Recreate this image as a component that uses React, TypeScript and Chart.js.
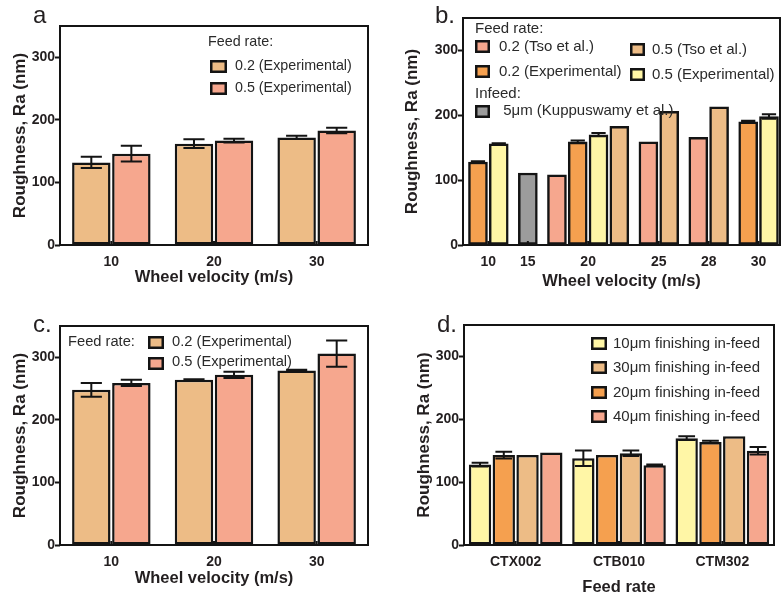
import React, { useEffect, useRef } from 'react';
import { Chart, registerables } from 'chart.js';

Chart.register(...registerables);

const FONT = '"Liberation Sans", Arial, Helvetica, sans-serif';
const TEXT = '#231f20';
const LINE = '#141414';

const C_TAN = '#EDBC86';
const C_PINK = '#F6A78E';
const C_ORANGE = '#F5A04F';
const C_YELLOW = '#FFF6A6';
const C_GRAY = '#9C9C9C';

// ---------- Panel a ----------
const aVelocity = ['10', '20', '30'];
const aNames = ['0.2 (Experimental)', '0.5 (Experimental)'];
const aFeed02 = [132, 162, 172];
const aFeed02Err = [9, 7, 2.5];
const aFeed05 = [146, 167, 183];
const aFeed05Err = [12.5, 3, 4.5];

// ---------- Panel b ----------
const bVelocity = ['10', '15', '20', '25', '28', '30'];
const bNames = ['0.2 (Tso et al.)', '0.2 (Experimental)', '0.5 (Experimental)', '0.5 (Tso et al.)', '5μm (Kuppuswamy et al.)'];
const bTso02 = [null, null, 108, 159, 166, null];
const bExp02 = [128, null, 159, null, null, 190];
const bExp02Err = [1, 0, 2, 0, 0, 1.5];
const bExp05 = [156, null, 170, null, null, 198];
const bExp05Err = [1, 0, 2.5, 0, 0, 3.5];
const bTso05 = [null, null, 183, 206, 213, null];
const bKupp = [null, 111, null, null, null, null];

// ---------- Panel c ----------
const cVelocity = ['10', '20', '30'];
const cNames = ['0.2 (Experimental)', '0.5 (Experimental)'];
const cFeed02 = [248, 264, 279];
const cFeed02Err = [11, 1, 1];
const cFeed05 = [259, 272, 306];
const cFeed05Err = [5, 5, 21];

// ---------- Panel d ----------
const dMaterial = ['CTX002', 'CTB010', 'CTM302'];
const dNames = ['10μm finishing in-feed', '20μm finishing in-feed', '30μm finishing in-feed', '40μm finishing in-feed'];
const dIn10 = [128, 138, 170];
const dIn10Err = [3, 12.5, 3];
const dIn20 = [143, 143, 164];
const dIn20Err = [5.5, 0, 2];
const dIn30 = [143, 146, 173];
const dIn30Err = [0, 4.5, 0];
const dIn40 = [147, 127, 150];
const dIn40Err = [0, 1, 6];

const errorBarPlugin = {
  id: 'errorBars',
  afterDatasetsDraw(chart: any, _a: any, opts: any) {
    const ctx = chart.ctx;
    const ys = chart.scales.y;
    const cap = opts && opts.cap ? opts.cap : 0.55;
    chart.data.datasets.forEach((ds: any, di: number) => {
      if (!ds.errors) return;
      const meta = chart.getDatasetMeta(di);
      meta.data.forEach((bar: any, i: number) => {
        const e = ds.errors[i];
        if (!e) return;
        const raw = ds.data[i];
        const v = raw != null && typeof raw === 'object' ? raw.y : raw;
        if (v == null) return;
        const yHi = ys.getPixelForValue(v + e);
        const yLo = ys.getPixelForValue(v - e);
        const half = (bar.width * cap) / 2;
        ctx.save();
        ctx.strokeStyle = LINE;
        ctx.lineWidth = 2;
        ctx.beginPath();
        ctx.moveTo(bar.x, yHi);
        ctx.lineTo(bar.x, yLo);
        ctx.moveTo(bar.x - half, yHi);
        ctx.lineTo(bar.x + half, yHi);
        ctx.moveTo(bar.x - half, yLo);
        ctx.lineTo(bar.x + half, yLo);
        ctx.stroke();
        ctx.restore();
      });
    });
  },
};

const panelPlugin = {
  id: 'panel',
  afterDatasetsDraw(chart: any, _a: any, opts: any) {
    const ctx = chart.ctx;
    const { left, right, top, bottom } = chart.chartArea;
    const xs = chart.scales.x;
    ctx.save();
    ctx.strokeStyle = LINE;
    ctx.lineWidth = 2;
    ctx.beginPath();
    xs.ticks.forEach((_t: any, i: number) => {
      const px = xs.getPixelForTick(i);
      ctx.moveTo(px, bottom);
      ctx.lineTo(px, bottom - 4);
    });
    ctx.stroke();
    ctx.lineWidth = 2;
    ctx.strokeRect(left, top, right - left, bottom - top);
    if (opts.label) {
      ctx.fillStyle = TEXT;
      ctx.font = `24px ${FONT}`;
      ctx.textBaseline = 'alphabetic';
      ctx.textAlign = 'left';
      ctx.fillText(opts.label.text, opts.label.x, opts.label.y);
    }
    const fs = opts.legendFont || 14;
    (opts.legend || []).forEach((it: any) => {
      if (it.kind === 'box') {
        ctx.fillStyle = it.color;
        ctx.fillRect(it.x + 1, it.y + 1, it.w - 2, it.h - 2);
        ctx.strokeStyle = LINE;
        ctx.lineWidth = 2.5;
        ctx.strokeRect(it.x + 1.25, it.y + 1.25, it.w - 2.5, it.h - 2.5);
      } else {
        ctx.fillStyle = '#2a2a2a';
        ctx.font = `${fs}px ${FONT}`;
        ctx.textBaseline = 'middle';
        ctx.textAlign = 'left';
        ctx.fillText(it.text, it.x, it.y);
      }
    });
    ctx.restore();
  },
};

function yAxis(width: number, titlePad: number) {
  return {
    min: 0,
    max: 350,
    ticks: {
      stepSize: 100,
      includeBounds: false,
      font: { family: FONT, size: 14, weight: 'bold' },
      color: TEXT,
      padding: 0,
    },
    grid: { drawOnChartArea: false, drawTicks: true, tickLength: 5, tickWidth: 2, tickColor: LINE },
    border: { display: false },
    title: {
      display: true,
      text: 'Roughness, Ra (nm)',
      font: { family: FONT, size: 17, weight: 'bold' },
      color: TEXT,
      padding: { top: titlePad, bottom: 0 },
    },
    afterFit: (s: any) => {
      s.width = width;
    },
  };
}

function xAxisBase(height: number, title: string, titlePad: number) {
  return {
    grid: { display: false },
    border: { display: false },
    ticks: { font: { family: FONT, size: 14, weight: 'bold' }, color: TEXT, padding: 1, autoSkip: false, maxRotation: 0 },
    title: {
      display: true,
      text: title,
      font: { family: FONT, size: 16.5, weight: 'bold' },
      color: TEXT,
      padding: { top: 0, bottom: titlePad },
    },
    afterFit: (s: any) => {
      s.height = height;
    },
  };
}

function barDs(label: string, data: any[], color: string, errors: number[] | null, extra: any) {
  return {
    label,
    data,
    backgroundColor: color,
    borderColor: LINE,
    borderWidth: 2.5,
    borderSkipped: false,
    errors,
    ...extra,
  };
}

function makeA(): any {
  const ex = { categoryPercentage: 0.78, barPercentage: 0.96 };
  return {
    type: 'bar',
    data: {
      labels: aVelocity,
      datasets: [barDs(aNames[0], aFeed02, C_TAN, aFeed02Err, ex), barDs(aNames[1], aFeed05, C_PINK, aFeed05Err, ex)],
    },
    options: {
      responsive: false,
      animation: false,
      layout: { padding: { left: 0, top: 26, right: 32, bottom: 0 } },
      scales: { x: xAxisBase(55, 'Wheel velocity (m/s)', 13.1), y: yAxis(60, 10.0) },
      plugins: {
        legend: { display: false },
        tooltip: { enabled: false },
        errorBars: { cap: 0.55 },
        panel: {
          label: { text: 'a', x: 33, y: 23 },
          legendFont: 14.3,
          legend: [
            { kind: 'text', text: 'Feed rate:', x: 208, y: 42 },
            { kind: 'box', x: 210, y: 60, w: 17, h: 13, color: C_TAN },
            { kind: 'text', text: aNames[0], x: 235, y: 66.5 },
            { kind: 'box', x: 210, y: 82, w: 17, h: 13, color: C_PINK },
            { kind: 'text', text: aNames[1], x: 235, y: 88.5 },
          ],
        },
      },
    },
    plugins: [errorBarPlugin, panelPlugin],
  };
}

function makeB(): any {
  const GAP = 0.4;
  const series = [bTso02, bExp02, bExp05, bTso05, bKupp];
  const errs: (number[] | null)[] = [null, bExp02Err, bExp05Err, null, null];
  const colors = [C_PINK, C_ORANGE, C_YELLOW, C_TAN, C_GRAY];
  const points: any[][] = series.map(() => []);
  const pointErrs: number[][] = series.map(() => []);
  const centers: number[] = [];
  let slot = 0;
  bVelocity.forEach((_v, g) => {
    const start = slot;
    series.forEach((s, k) => {
      const val = s[g];
      if (val != null) {
        points[k].push({ x: slot + g * GAP, y: val });
        pointErrs[k].push(errs[k] ? (errs[k] as number[])[g] : 0);
        slot++;
      }
    });
    centers.push((start + slot - 1) / 2 + g * GAP);
  });
  const ex = { barThickness: 19, grouped: false };
  const xa: any = xAxisBase(55, 'Wheel velocity (m/s)', 9.1);
  xa.type = 'linear';
  xa.offset = false;
  xa.min = -0.72;
  xa.max = 14.53;
  xa.afterBuildTicks = (s: any) => {
    s.ticks = centers.map((c) => ({ value: c }));
  };
  xa.ticks.callback = (_v: any, i: number) => bVelocity[i];
  return {
    type: 'bar',
    data: {
      datasets: series.map((_s, k) => barDs(bNames[k], points[k], colors[k], pointErrs[k], ex)),
    },
    options: {
      responsive: false,
      animation: false,
      layout: { padding: { left: 0, top: 18, right: 2, bottom: 0 } },
      scales: { x: xa, y: yAxis(63, 2.0) },
      plugins: {
        legend: { display: false },
        tooltip: { enabled: false },
        errorBars: { cap: 0.75 },
        panel: {
          label: { text: 'b.', x: 35, y: 23 },
          legendFont: 15,
          legend: [
            { kind: 'text', text: 'Feed rate:', x: 75, y: 29 },
            { kind: 'box', x: 75, y: 40, w: 15, h: 13, color: C_PINK },
            { kind: 'text', text: bNames[0], x: 99, y: 46.5 },
            { kind: 'box', x: 230, y: 43, w: 15, h: 13, color: C_TAN },
            { kind: 'text', text: bNames[3], x: 252, y: 49.5 },
            { kind: 'box', x: 75, y: 65, w: 15, h: 13, color: C_ORANGE },
            { kind: 'text', text: bNames[1], x: 99, y: 71.5 },
            { kind: 'box', x: 230, y: 68, w: 15, h: 13, color: C_YELLOW },
            { kind: 'text', text: bNames[2], x: 252, y: 74.5 },
            { kind: 'text', text: 'Infeed:', x: 75, y: 94 },
            { kind: 'box', x: 75, y: 105, w: 15, h: 13, color: C_GRAY },
            { kind: 'text', text: ' ' + bNames[4], x: 99, y: 111 },
          ],
        },
      },
    },
    plugins: [errorBarPlugin, panelPlugin],
  };
}

function makeC(): any {
  const ex = { categoryPercentage: 0.78, barPercentage: 0.96 };
  return {
    type: 'bar',
    data: {
      labels: cVelocity,
      datasets: [barDs(cNames[0], cFeed02, C_TAN, cFeed02Err, ex), barDs(cNames[1], cFeed05, C_PINK, cFeed05Err, ex)],
    },
    options: {
      responsive: false,
      animation: false,
      layout: { padding: { left: 0, top: 26, right: 32, bottom: 0 } },
      scales: { x: xAxisBase(55, 'Wheel velocity (m/s)', 12.1), y: yAxis(60, 10.0) },
      plugins: {
        legend: { display: false },
        tooltip: { enabled: false },
        errorBars: { cap: 0.55 },
        panel: {
          label: { text: 'c.', x: 33, y: 32 },
          legendFont: 14.7,
          legend: [
            { kind: 'text', text: 'Feed rate:', x: 68, y: 42 },
            { kind: 'box', x: 148, y: 36, w: 16, h: 13, color: C_TAN },
            { kind: 'text', text: cNames[0], x: 172, y: 42 },
            { kind: 'box', x: 148, y: 57, w: 16, h: 13, color: C_PINK },
            { kind: 'text', text: cNames[1], x: 172, y: 62 },
          ],
        },
      },
    },
    plugins: [errorBarPlugin, panelPlugin],
  };
}

function makeD(): any {
  const ex = { categoryPercentage: 0.92, barPercentage: 0.94 };
  return {
    type: 'bar',
    data: {
      labels: dMaterial,
      datasets: [
        barDs(dNames[0], dIn10, C_YELLOW, dIn10Err, ex),
        barDs(dNames[1], dIn20, C_ORANGE, dIn20Err, ex),
        barDs(dNames[2], dIn30, C_TAN, dIn30Err, ex),
        barDs(dNames[3], dIn40, C_PINK, dIn40Err, ex),
      ],
    },
    options: {
      responsive: false,
      animation: false,
      layout: { padding: { left: 0, top: 25, right: 8, bottom: 0 } },
      scales: { x: xAxisBase(55, 'Feed rate', 3.1), y: yAxis(64, 14.0) },
      plugins: {
        legend: { display: false },
        tooltip: { enabled: false },
        errorBars: { cap: 0.75 },
        panel: {
          label: { text: 'd.', x: 37, y: 32 },
          legendFont: 15,
          legend: [
            { kind: 'box', x: 191, y: 37, w: 16, h: 13, color: C_YELLOW },
            { kind: 'text', text: dNames[0], x: 213, y: 44 },
            { kind: 'box', x: 191, y: 61, w: 16, h: 13, color: C_TAN },
            { kind: 'text', text: dNames[2], x: 213, y: 68 },
            { kind: 'box', x: 191, y: 86, w: 16, h: 13, color: C_ORANGE },
            { kind: 'text', text: dNames[1], x: 213, y: 93 },
            { kind: 'box', x: 191, y: 110, w: 16, h: 13, color: C_PINK },
            { kind: 'text', text: dNames[3], x: 213, y: 117 },
          ],
        },
      },
    },
    plugins: [errorBarPlugin, panelPlugin],
  };
}

function Panel({ make, left, top, width, height }: any) {
  const ref = useRef<HTMLCanvasElement | null>(null);
  useEffect(() => {
    if (!ref.current) return;
    const chart = new Chart(ref.current, make());
    return () => chart.destroy();
  }, [make]);
  return (
    <canvas
      ref={ref}
      width={width}
      height={height}
      style={{ position: 'absolute', left, top, width, height, display: 'block' }}
    />
  );
}

export default function App() {
  return (
    <div style={{ position: 'absolute', left: 0, top: 0, width: 782, height: 600, background: '#fff', overflow: 'hidden' }}>
      <Panel make={makeA} left={0} top={0} width={400} height={300} />
      <Panel make={makeB} left={400} top={0} width={382} height={300} />
      <Panel make={makeC} left={0} top={300} width={400} height={300} />
      <Panel make={makeD} left={400} top={300} width={382} height={300} />
    </div>
  );
}
